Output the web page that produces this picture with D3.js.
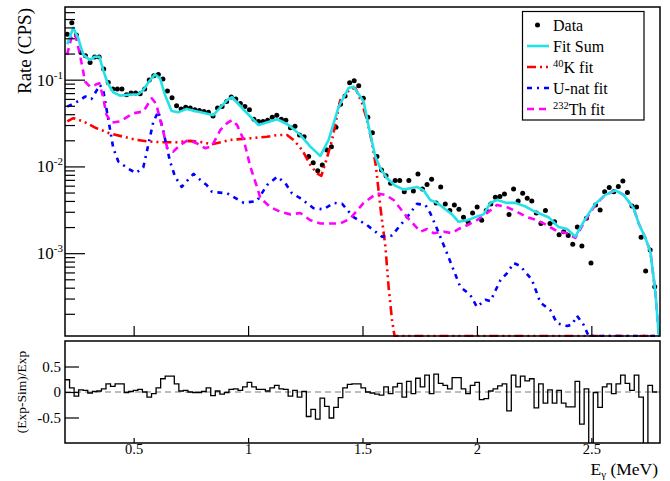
<!DOCTYPE html>
<meta charset="utf-8">
<style>
    body { margin: 0; background: #fff; }
    svg { font-family: "Liberation Serif", "Times New Roman", serif; }
    .frame { fill: none; stroke: #000; stroke-width: 1.5; }
    .axis path { display: none; }
    .axis line { stroke: #000; stroke-width: 1.2; }
    .axis text { font-family: "Liberation Serif", serif; fill: #000; }
    .fit { fill: none; stroke-width: 2.6; stroke-linejoin: round; }
    .resid { fill: none; stroke: #000; stroke-width: 1.3; }
</style>
<body>
<svg id="chart" width="670" height="481"></svg>
<script src="https://d3js.org/d3.v7.min.js"></script>
<script>
    // measured binning of the spectrum (130 bins)
    const binLow = 0.2, binWidth = 0.0199, nBins = 130;

    // data points, CPS per bin
    const dataRate = [0.333, 0.454, 0.327, 0.205, 0.189, 0.158, 0.183, 0.183, 0.133, 0.093,
        0.078, 0.078, 0.078, 0.067, 0.070, 0.070, 0.069, 0.078, 0.099, 0.111,
        0.115, 0.102, 0.074, 0.062, 0.050, 0.046, 0.048, 0.047, 0.045, 0.044,
        0.043, 0.042, 0.038, 0.047, 0.049, 0.056, 0.063, 0.060, 0.053, 0.049,
        0.045, 0.035, 0.033, 0.033, 0.034, 0.037, 0.039, 0.035, 0.034, 0.028,
        0.029, 0.023, 0.022, 0.013, 0.011, 0.0089, 0.0104, 0.0155, 0.0169, 0.0283,
        0.052, 0.065, 0.092, 0.097, 0.085, 0.061, 0.037, 0.0245, 0.013, 0.0091,
        0.0078, 0.0064, 0.0069, 0.0069, 0.0051, 0.0069, 0.0052, 0.0082, 0.0055, 0.0062,
        0.0071, 0.0038, 0.0058, 0.0037, 0.0031, 0.0036, 0.0032, 0.0026, 0.0023, 0.0029,
        0.0034, 0.0024, 0.0031, 0.0037, 0.0044, 0.0045, 0.0048, 0.0028, 0.0055, 0.0040,
        0.0049, 0.0043, 0.0040, 0.0029, 0.0022, 0.0031, 0.0022, 0.0023, 0.00163, 0.00177,
        0.0016, 0.00127, 0.0020, 0.00121, 0.00253, 0.00077, 0.0036, 0.00315, 0.0051, 0.0057,
        0.0051, 0.00585, 0.0068, 0.0050, 0.0035, 0.0034, 0.00153, 0.000625, 0.00109, 0.00041];

    // (Exp-Sim)/Exp per bin
    const residual = [0.24, 0.08, -0.08, 0.04, 0.03, -0.02, 0.01, 0.02, 0.06, 0.16,
        0.11, 0.16, 0.16, -0.01, 0.01, 0.03, 0.05, 0.0, -0.1, -0.03,
        0.08, 0.26, 0.31, 0.31, 0.16, 0.02, 0.03, 0.0, -0.01, -0.01,
        0.01, 0.08, -0.07, 0.02, -0.04, -0.01, 0.05, 0.06, 0.03, 0.1,
        0.19, 0.1, 0.05, 0.05, 0.02, 0.08, 0.13, 0.06, 0.05, -0.08,
        0.03, -0.1, 0.01, -0.48, -0.34, -0.53, -0.12, -0.28, -0.51, -0.3,
        -0.11, 0.08, 0.15, 0.16, 0.16, 0.08, 0.0, -0.02, -0.04, -0.06,
        0.1, -0.03, 0.1, 0.17, -0.1, 0.21, -0.03, 0.27, 0.1, 0.33,
        -0.03, 0.35, 0.17, 0.13, 0.06, 0.28, 0.28, 0.06, -0.03, 0.13,
        0.19, -0.15, -0.13, 0.02, 0.06, 0.12, 0.16, -0.37, 0.33, 0.1,
        0.31, 0.22, 0.26, -0.31, 0.16, -0.22, 0.04, -0.22, 0.03, -0.22,
        -0.29, -0.29, 0.21, -0.63, 0.06, -1.5, -0.01, -0.3, 0.1, 0.16,
        -0.03, 0.16, 0.33, 0.17, 0.03, 0.33, -0.1, -1.5, 0.13, 0.0];

    // fitted curves (energy in MeV, rate in CPS)
    const fitSumE = [0.210, 0.236, 0.258, 0.280, 0.309, 0.331, 0.350, 0.367, 0.386, 0.411, 0.440, 0.477, 0.520, 0.542, 0.569, 0.593, 0.615, 0.637, 0.666, 0.695, 0.731, 0.768, 0.812, 0.848, 0.908, 0.930, 0.981, 1.046, 1.127, 1.177, 1.228, 1.272, 1.316, 1.352, 1.396, 1.439, 1.461, 1.505, 1.527, 1.556, 1.578, 1.607, 1.643, 1.680, 1.709, 1.738, 1.767, 1.796, 1.826, 1.862, 1.891, 1.920, 1.957, 2.000, 2.029, 2.059, 2.088, 2.131, 2.168, 2.212, 2.255, 2.313, 2.357, 2.394, 2.430, 2.474, 2.517, 2.561, 2.605, 2.641, 2.685, 2.707, 2.736, 2.758, 2.780, 2.795];
    const fitSum = [0.256, 0.397, 0.300, 0.193, 0.169, 0.184, 0.184, 0.129, 0.091, 0.0716, 0.0655, 0.067, 0.068, 0.076, 0.0966, 0.115, 0.104, 0.0667, 0.0436, 0.042, 0.046, 0.0436, 0.041, 0.039, 0.058, 0.063, 0.045, 0.030, 0.035, 0.030, 0.0231, 0.0169, 0.0132, 0.0202, 0.049, 0.080, 0.083, 0.056, 0.0288, 0.013, 0.0095, 0.0073, 0.0060, 0.0054, 0.0056, 0.0058, 0.0053, 0.0041, 0.0038, 0.0032, 0.0028, 0.0023, 0.0024, 0.00264, 0.0028, 0.0038, 0.0041, 0.0038, 0.0038, 0.00345, 0.0030, 0.0026, 0.0020, 0.0019, 0.00155, 0.0025, 0.0037, 0.0047, 0.0053, 0.0047, 0.0033, 0.0022, 0.0015, 0.00104, 0.00035, 0];

    const k40E = [0.210, 0.236, 0.280, 0.338, 0.397, 0.455, 0.513, 0.572, 0.630, 0.688, 0.746, 0.804, 0.841, 0.922, 1.010, 1.083, 1.127, 1.170, 1.199, 1.236, 1.272, 1.301, 1.320, 1.338, 1.367, 1.403, 1.446, 1.469, 1.498, 1.520, 1.542, 1.559, 1.578, 1.600, 1.614, 1.629, 1.640, 2.800];
    const k40 = [0.033, 0.036, 0.033, 0.0275, 0.024, 0.022, 0.0202, 0.0193, 0.019, 0.019, 0.0197, 0.019, 0.018, 0.0202, 0.0211, 0.022, 0.023, 0.023, 0.0202, 0.0155, 0.0104, 0.0083, 0.0078, 0.0109, 0.0202, 0.058, 0.078, 0.080, 0.0535, 0.0343, 0.0185, 0.0099, 0.0034, 0.0012, 0.00041, 0.00017, 0, 0];

    const unatE = [0.210, 0.266, 0.288, 0.316, 0.353, 0.368, 0.390, 0.411, 0.433, 0.477, 0.510, 0.542, 0.564, 0.586, 0.608, 0.630, 0.659, 0.681, 0.710, 0.733, 0.762, 0.791, 0.819, 0.842, 0.908, 0.981, 1.039, 1.083, 1.127, 1.163, 1.192, 1.228, 1.286, 1.330, 1.374, 1.411, 1.461, 1.520, 1.585, 1.629, 1.665, 1.695, 1.738, 1.775, 1.796, 1.826, 1.869, 1.927, 1.971, 2.000, 2.037, 2.059, 2.103, 2.132, 2.161, 2.190, 2.241, 2.277, 2.321, 2.350, 2.394, 2.416, 2.437, 2.466, 2.488, 2.800];
    const unat = [0.049, 0.058, 0.064, 0.060, 0.087, 0.073, 0.034, 0.0162, 0.0114, 0.0094, 0.0084, 0.0097, 0.0177, 0.0328, 0.043, 0.0252, 0.0114, 0.0076, 0.0058, 0.0068, 0.0082, 0.0070, 0.0061, 0.0051, 0.0049, 0.0038, 0.0040, 0.0061, 0.0076, 0.0064, 0.0049, 0.0043, 0.0033, 0.0032, 0.0038, 0.0037, 0.0026, 0.0021, 0.00155, 0.0016, 0.0021, 0.0026, 0.0037, 0.0036, 0.0029, 0.0019, 0.0010, 0.00041, 0.00033, 0.00024, 0.00029, 0.00028, 0.00049, 0.00059, 0.00077, 0.00071, 0.00049, 0.00027, 0.00022, 0.000156, 0.000145, 0.00015, 0.00019, 0.00015, 0, 0];

    const th232E = [0.209, 0.229, 0.244, 0.266, 0.288, 0.309, 0.331, 0.350, 0.364, 0.382, 0.404, 0.440, 0.499, 0.542, 0.579, 0.598, 0.622, 0.647, 0.673, 0.703, 0.739, 0.775, 0.812, 0.841, 0.879, 0.908, 0.930, 0.952, 0.981, 1.010, 1.039, 1.054, 1.097, 1.141, 1.185, 1.228, 1.272, 1.316, 1.403, 1.446, 1.505, 1.563, 1.600, 1.636, 1.695, 1.753, 1.782, 1.811, 1.855, 1.891, 1.920, 1.957, 2.000, 2.044, 2.088, 2.131, 2.175, 2.219, 2.263, 2.306, 2.350, 2.394, 2.430, 2.474, 2.517, 2.561, 2.605, 2.641, 2.685, 2.707, 2.736, 2.758, 2.780, 2.795];
    const th232 = [0.193, 0.31, 0.34, 0.19, 0.095, 0.083, 0.087, 0.091, 0.067, 0.039, 0.032, 0.033, 0.041, 0.043, 0.061, 0.053, 0.030, 0.0162, 0.0148, 0.0177, 0.0202, 0.0185, 0.0162, 0.017, 0.0263, 0.0315, 0.0343, 0.030, 0.0202, 0.0099, 0.0058, 0.0043, 0.0034, 0.0030, 0.0028, 0.0029, 0.0024, 0.0022, 0.0022, 0.0025, 0.0038, 0.0049, 0.0047, 0.0041, 0.0026, 0.00177, 0.0019, 0.0017, 0.00177, 0.0017, 0.0019, 0.0021, 0.0024, 0.0029, 0.0036, 0.0034, 0.0030, 0.0026, 0.0024, 0.0021, 0.0018, 0.0017, 0.0015, 0.0024, 0.0036, 0.0047, 0.0053, 0.0047, 0.0033, 0.0022, 0.0015, 0.00104, 0.00035, 0];

    const xTicks = [0.5, 1, 1.5, 2, 2.5];
    const yMajor = [1e-3, 1e-2, 1e-1];
    const yMajorLabels = ["-3", "-2", "-1"];
    const residTicks = [-0.5, 0, 0.5];

    // ---- layout
    const left = 65, right = 660;
    const top1 = 7, bot1 = 336;
    const top2 = 341, bot2 = 443;

    const svg = d3.select("#chart");

    const x = d3.scaleLinear().domain([0.2, 2.8]).range([left, right]);
    const y = d3.scaleLog().domain([1.11e-4, 0.688]).range([bot1, top1]).clamp(true);
    const yr = d3.scaleLinear().domain([-1, 1]).range([bot2, top2]);

    const defs = svg.append("defs");
    defs.append("clipPath").attr("id", "clipTop").append("rect")
        .attr("x", left).attr("y", top1).attr("width", right - left).attr("height", bot1 - top1 + 1);
    defs.append("clipPath").attr("id", "clipBot").append("rect")
        .attr("x", left).attr("y", top2).attr("width", right - left).attr("height", bot2 - top2);

    // ---- top panel
    const styles = {
        sum: { color: "#22e2e8", dash: null },
        k40: { color: "#ff0000", dash: "9,4,2,4,2,4" },
        unat: { color: "#0000ff", dash: "5,5,2,5" },
        th: { color: "#ff00ff", dash: "7,5" }
    };

    const line = d3.line()
        .x(d => x(d[0]))
        .y(d => y(Math.max(d[1], 1e-7)));

    const plot = svg.append("g").attr("clip-path", "url(#clipTop)");

    const bins = d3.range(nBins);
    plot.append("g").selectAll("circle")
        .data(bins.filter(i => dataRate[i] > 0))
        .enter().append("circle")
        .attr("cx", i => x(binLow + binWidth * (i + 0.5)))
        .attr("cy", i => y(dataRate[i]))
        .attr("r", 2.5)
        .attr("fill", "#000");

    function drawFit(es, vs, st) {
        plot.append("path")
            .datum(d3.zip(es, vs))
            .attr("class", "fit")
            .attr("stroke", st.color)
            .attr("stroke-dasharray", st.dash)
            .attr("d", line);
    }
    drawFit(k40E, k40, styles.k40);
    drawFit(unatE, unat, styles.unat);
    drawFit(th232E, th232, styles.th);
    drawFit(fitSumE, fitSum, styles.sum);

    // y axis ticks (inside the frame)
    const minor = [];
    [-4, -3, -2, -1].forEach(p => d3.range(2, 10).forEach(m => {
        const v = m * Math.pow(10, p);
        if (v > y.domain()[0] && v < y.domain()[1]) minor.push(v);
    }));
    svg.append("g").attr("class", "axis").attr("transform", `translate(${left},0)`)
        .call(d3.axisLeft(y).tickValues(minor).tickSize(-10).tickFormat(""));
    svg.append("g").attr("class", "axis").attr("transform", `translate(${left},0)`)
        .call(d3.axisLeft(y).tickValues(yMajor).tickSize(-20).tickFormat(""));

    const yl = svg.append("g");
    yMajor.forEach((v, i) => {
        const t = yl.append("text")
            .attr("x", left - 2).attr("y", y(v) + 6)
            .attr("text-anchor", "end")
            .style("font-size", "17px");
        t.append("tspan").text("10");
        t.append("tspan").attr("dy", -7).style("font-size", "11px").text(yMajorLabels[i]);
    });

    svg.append("g").attr("class", "axis").attr("transform", `translate(0,${bot1})`)
        .call(d3.axisBottom(x).tickValues(xTicks).tickSize(-10).tickFormat(""));

    svg.append("text")
        .attr("transform", `translate(31,${top1 + 1}) rotate(-90)`)
        .attr("text-anchor", "end")
        .style("font-size", "19px")
        .text("Rate (CPS)");

    svg.append("rect").attr("class", "frame")
        .attr("x", left).attr("y", top1).attr("width", right - left).attr("height", bot1 - top1);

    // legend
    const lg = svg.append("g");
    lg.append("rect")
        .attr("x", 522.5).attr("y", 11.5).attr("width", 121.5).attr("height", 108.5)
        .attr("fill", "#fff").attr("stroke", "#000").attr("stroke-width", 1.2);
    const rowY = [25, 46, 67, 88, 109];
    lg.append("circle").attr("cx", 537.5).attr("cy", rowY[0]).attr("r", 2.5).attr("fill", "#000");
    [styles.sum, styles.k40, styles.unat, styles.th].forEach((st, i) => {
        lg.append("line")
            .attr("x1", 527).attr("x2", 549)
            .attr("y1", rowY[i + 1]).attr("y2", rowY[i + 1])
            .attr("stroke", st.color).attr("stroke-width", 2.6)
            .attr("stroke-dasharray", st.dash);
    });
    const legendText = (i) => lg.append("text")
        .attr("x", 553).attr("y", rowY[i] + 5.5)
        .style("font-size", "16px");
    legendText(0).text("Data");
    legendText(1).text("Fit Sum");
    let t = legendText(2);
    t.append("tspan").attr("dy", -6).style("font-size", "10.5px").text("40");
    t.append("tspan").attr("dy", 6).text("K fit");
    legendText(3).text("U-nat fit");
    t = legendText(4);
    t.append("tspan").attr("dy", -6).style("font-size", "10.5px").text("232");
    t.append("tspan").attr("dy", 6).text("Th fit");

    // ---- residual panel
    svg.append("line")
        .attr("x1", left).attr("x2", right)
        .attr("y1", yr(0)).attr("y2", yr(0))
        .attr("stroke", "#bdbdbd").attr("stroke-width", 2)
        .attr("stroke-dasharray", "6,4");

    const steps = bins.map(i => [binLow + binWidth * i, residual[i]]);
    steps.push([binLow + binWidth * nBins, residual[nBins - 1]]);
    svg.append("g").attr("clip-path", "url(#clipBot)")
        .append("path")
        .datum(steps)
        .attr("class", "resid")
        .attr("d", d3.line().x(d => x(d[0])).y(d => yr(d[1])).curve(d3.curveStepAfter));

    svg.append("g").attr("class", "axis").attr("transform", `translate(${left},0)`)
        .call(d3.axisLeft(yr).tickValues(residTicks).tickSize(-14).tickPadding(4)
            .tickFormat(d => String(d)))
        .selectAll("text").style("font-size", "15px");

    svg.append("g").attr("class", "axis").attr("transform", `translate(0,${bot2})`)
        .call(d3.axisBottom(x).tickValues(xTicks).tickSize(-5).tickPadding(1)
            .tickFormat(d => String(d)))
        .selectAll("text").style("font-size", "14.5px");

    svg.append("rect").attr("class", "frame")
        .attr("x", left).attr("y", top2).attr("width", right - left).attr("height", bot2 - top2);

    svg.append("text")
        .attr("transform", `translate(26,${(top2 + bot2) / 2}) rotate(-90)`)
        .attr("text-anchor", "middle")
        .style("font-size", "13.5px")
        .text("(Exp-Sim)/Exp");

    const xt = svg.append("text")
        .attr("x", right - 2).attr("y", 475)
        .attr("text-anchor", "end")
        .style("font-size", "17.5px");
    xt.append("tspan").text("E");
    xt.append("tspan").attr("dy", 2.5).style("font-size", "11px").text("γ");
    xt.append("tspan").attr("dy", -2.5).text(" (MeV)");
</script>
</body>
